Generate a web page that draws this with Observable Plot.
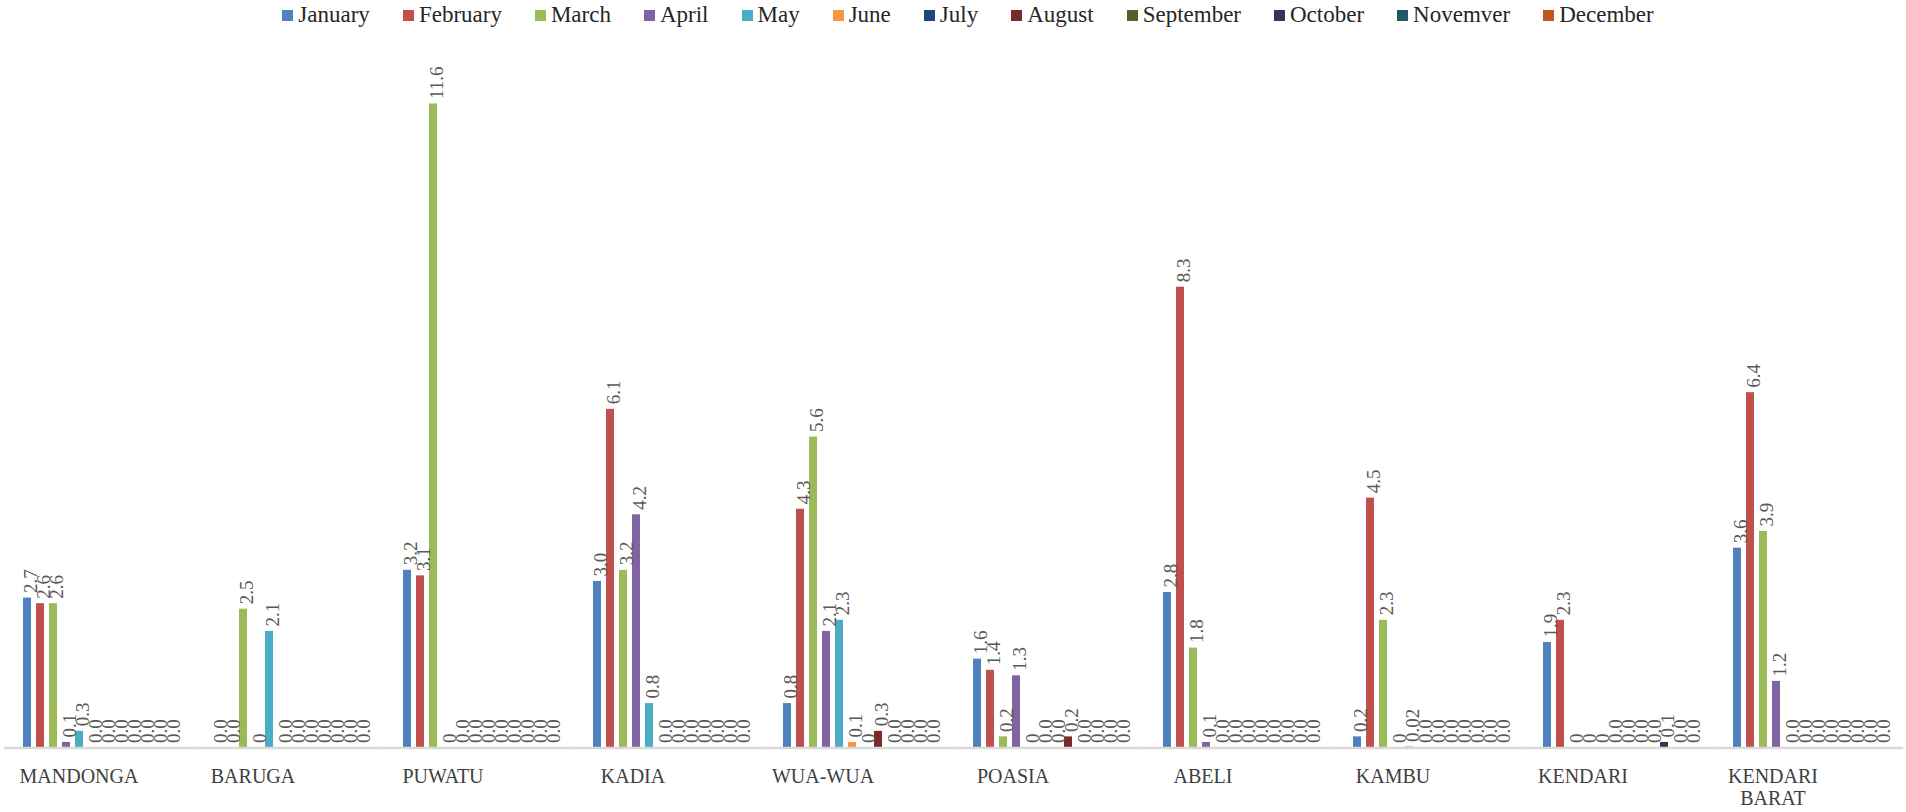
<!DOCTYPE html>
<html><head><meta charset="utf-8">
<script src="https://cdn.jsdelivr.net/npm/d3@7"></script>
<script src="https://cdn.jsdelivr.net/npm/@observablehq/plot@0.6"></script>
<style>
body{margin:0;background:#fff;font-family:"Liberation Serif","Times New Roman",serif;}
#legend{box-sizing:border-box;width:1906px;padding-left:30px;height:30px;display:flex;justify-content:center;align-items:center;gap:33px;font-size:23px;color:#262626;}
.item{display:flex;align-items:center;gap:5px;}
.sw{width:11px;height:11px;display:inline-block;}
g[aria-label="district-labels"] text{letter-spacing:3.5px;}
</style></head><body>
<div id="legend"></div>
<div id="chart"></div>
<script>
const months = ["January","February","March","April","May","June","July","August","September","October","Novemver","December"];
const monthColors = ["#4F81BD","#C0504D","#9BBB59","#8064A2","#4BACC6","#F79646","#1F497D","#772C2A","#4F6228","#3F3151","#215967","#C0561A"];
const districts = ["MANDONGA","BARUGA","PUWATU","KADIA","WUA-WUA","POASIA","ABELI","KAMBU","KENDARI","KENDARI BARAT"];

const mandonga     = [2.7, 2.6, 2.6, 0.1, 0.3, 0, 0, 0, 0, 0, 0, 0];
const baruga       = [0, 0, 2.5, 0, 2.1, 0, 0, 0, 0, 0, 0, 0];
const puwatu       = [3.2, 3.1, 11.6, 0, 0, 0, 0, 0, 0, 0, 0, 0];
const kadia        = [3.0, 6.1, 3.2, 4.2, 0.8, 0, 0, 0, 0, 0, 0, 0];
const wuawua       = [0.8, 4.3, 5.6, 2.1, 2.3, 0.1, 0, 0.3, 0, 0, 0, 0];
const poasia       = [1.6, 1.4, 0.2, 1.3, 0, 0, 0, 0.2, 0, 0, 0, 0];
const abeli        = [2.8, 8.3, 1.8, 0.1, 0, 0, 0, 0, 0, 0, 0, 0];
const kambu        = [0.2, 4.5, 2.3, 0, 0.02, 0, 0, 0, 0, 0, 0, 0];
const kendari      = [1.9, 2.3, 0, 0, 0, 0, 0, 0, 0, 0.1, 0, 0];
const kendariBarat = [3.6, 6.4, 3.9, 1.2, 0, 0, 0, 0, 0, 0, 0, 0];

// labels printed as a bare "0" instead of "0.0"
const plainZeros = [["BARUGA","April"],["PUWATU","April"],["WUA-WUA","July"],["POASIA","May"],["KAMBU","April"],["KENDARI","March"],["KENDARI","April"],["KENDARI","May"]];

const series = [mandonga, baruga, puwatu, kadia, wuawua, poasia, abeli, kambu, kendari, kendariBarat];
const isPlain = (d, m) => plainZeros.some(([a, b]) => a === d && b === m);
const fmt = (v, d, m) => isPlain(d, m) ? "0" : (v > 0 && v < 0.05 ? String(v) : v.toFixed(1));
const data = districts.flatMap((d, i) => series[i].map((v, j) => ({district: d, month: months[j], value: v, label: fmt(v, d, months[j])})));

// legend
const legend = d3.select("#legend");
months.forEach((m, i) => {
  const it = legend.append("div").attr("class", "item");
  it.append("span").attr("class", "sw").style("background", monthColors[i]);
  it.append("span").text(m);
});

const labelStyle = {fx: d => d, text: d => d.replace(" ", "\n"), frameAnchor: "bottom", lineAnchor: "top", dy: 19, fontSize: 20, lineHeight: 1.1, fill: "#404040", fontFamily: "Liberation Serif", ariaLabel: "district-labels"};

const chart = Plot.plot({
  width: 1906,
  height: 782,
  marginLeft: 1,
  marginRight: 0,
  marginTop: 23.5,
  marginBottom: 64.5,
  fx: {domain: districts, paddingInner: 0.13, paddingOuter: 0.065, axis: null},
  x: {domain: months, paddingInner: 0.38, paddingOuter: 0.19, axis: null},
  y: {domain: [0, 12.5], axis: null},
  color: {domain: months, range: monthColors},
  marks: [
    Plot.barY(data, {fx: "district", x: "month", y: "value", fill: "month"}),
    Plot.ruleY([0], {stroke: "#d9d9d9", strokeWidth: 2.5, insetLeft: -12.4, insetRight: -12.4}),
    Plot.text(data, {fx: "district", x: "month", y: "value", text: "label", rotate: -90, textAnchor: "start", dy: -5, dx: 3, fontSize: 19, fill: "#595959", fontFamily: "Liberation Serif"}),
    Plot.text(districts, {...labelStyle, filter: d => d === districts[0], dx: -20}),
    Plot.text(districts, {...labelStyle, filter: d => d !== districts[0], dx: -36})
  ]
});
document.getElementById("chart").appendChild(chart);
</script>
</body></html>
